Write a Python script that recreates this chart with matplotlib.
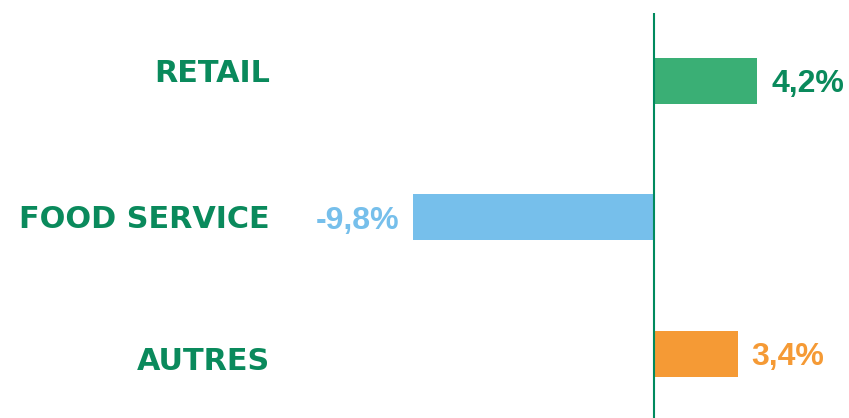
import matplotlib.pyplot as plt
import matplotlib.transforms as mtransforms
from matplotlib import font_manager as fm

categories = ["RETAIL", "FOOD SERVICE", "AUTRES"]
values = [4.2, -9.8, 3.4]
value_labels = ["4,2%", "-9,8%", "3,4%"]
colors = ["#3aaf75", "#76bfeb", "#f59a35"]
label_colors = ["#0a8a5c", "#76bfeb", "#f59a35"]

green = "#0a8a5c"
# small vertical nudges for the category labels (in bar-slot units)
cat_nudge = [-0.08, -0.01, 0.035]

# find the regular (non narrow) Liberation Sans Bold file
val_font = None
for f in fm.findSystemFonts():
    if f.endswith("LiberationSans-Bold.ttf"):
        val_font = fm.FontProperties(fname=f, size=23)
        break
if val_font is None:
    val_font = fm.FontProperties(family="DejaVu Sans", weight="bold", size=21)

fig = plt.figure(figsize=(8.49, 4.18), dpi=100)
ax = fig.add_axes([0, 0, 1, 1])

pos = list(range(len(categories)))
ax.barh(pos, values, height=0.337, color=colors)

ax.set_xlim(-26.59, 7.93)
ax.set_ylim(2.469, -0.593)
ax.vlines(0, -0.498, 2.469, color="#008a5e", linewidth=1.5, zorder=3)
ax.axis("off")

trans = mtransforms.blended_transform_factory(ax.transAxes, ax.transData)
for p, cat, n in zip(pos, categories, cat_nudge):
    ax.text(0.318, p + n, cat, transform=trans, ha="right", va="center_baseline",
            fontsize=21.8, fontweight="bold", family=["DejaVu Sans"],
            color=green)

for p, v, lab, c in zip(pos, values, value_labels, label_colors):
    off = 10 if v > 0 else -10
    ax.annotate(lab, (v, p), xytext=(off, 0), textcoords="offset points",
                ha="left" if v > 0 else "right", va="center_baseline",
                fontproperties=val_font, color=c)

fig.savefig("out.png", dpi=100)
